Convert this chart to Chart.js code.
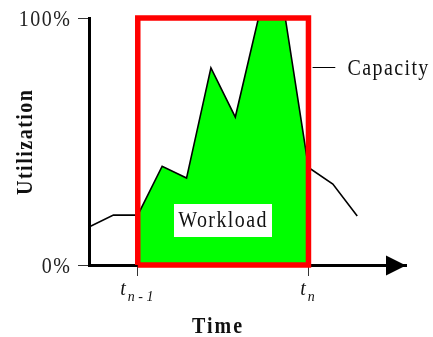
<!DOCTYPE html>
<html>
<head>
<meta charset="utf-8">
<script src="https://cdn.jsdelivr.net/npm/chart.js@4/dist/chart.umd.min.js"></script>
<style>
  html, body { margin: 0; padding: 0; background: #fff; }
  #wrap { width: 433px; height: 337px; }
</style>
</head>
<body>
<div id="wrap"><canvas id="chart" width="433" height="337"></canvas></div>
<script>
// time axis runs 0..13, the window is t(n-1) .. t(n)
const timeX = [0, 1, 2, 3, 4, 5, 6, 6.95, 8.05, 9, 10, 11];
const workload = [15.4, 20.2, 20.2, 40, 35.2, 79.8, 59.9, 100, 100, 39.5, 32.8, 19.8];
const tPrev = 2;
const tN = 9;
const capacity = 100;
const yTicks = [0, 100];
const yTickLabels = ['0%', '100%'];
const xMax = 13;

const serif = "'Liberation Serif', 'Times New Roman', serif";

// points of the workload line
const workloadPts = timeX.map((x, i) => ({ x: x, y: workload[i] }));
// only the part inside the window gets the green fill
const windowPts = workloadPts.filter(p => p.x >= tPrev && p.x <= tN);
// capacity box over the window
const capacityPts = [
    { x: tPrev, y: 0 }, { x: tPrev, y: capacity },
    { x: tN, y: capacity }, { x: tN, y: 0 }, { x: tPrev, y: 0 }
];

// draw text with a bit of spacing and the tall look of the original
function txt(ctx, s, x, y, font, align, opts = {}) {
    ctx.save();
    ctx.translate(x, y);
    if (opts.rot) ctx.rotate(opts.rot);
    ctx.scale(1, opts.sy || 1.15);
    ctx.font = font;
    ctx.fillStyle = opts.color || '#111';
    ctx.textAlign = align;
    ctx.textBaseline = opts.base || 'alphabetic';
    ctx.letterSpacing = (opts.ls || 0) + 'px';
    // letterSpacing adds space after last char too, shift back
    let dx = 0;
    if (align === 'center') dx = (opts.ls || 0) / 2;
    if (align === 'right') dx = (opts.ls || 0);
    ctx.fillText(s, dx, 0);
    ctx.restore();
}

const decor = {
    id: 'decor',
    afterDatasetsDraw(chart) {
        const ctx = chart.ctx;
        const xs = chart.scales.x, ys = chart.scales.y;
        const area = chart.chartArea;

        // arrow at the end of the time axis
        const ay = ys.getPixelForValue(0) + 0.5;
        ctx.save();
        ctx.fillStyle = '#000';
        ctx.beginPath();
        ctx.moveTo(area.right, ay);
        ctx.lineTo(area.right - 20, ay - 10);
        ctx.lineTo(area.right - 20, ay + 10);
        ctx.closePath();
        ctx.fill();
        ctx.restore();

        // y tick labels, next to the library's tick marks
        ys.ticks.forEach((t, i) => {
            const py = ys.getPixelForValue(t.value);
            txt(ctx, yTickLabels[i], 70, py + 7.5, '20px ' + serif, 'right', { ls: 1.5, color: '#222' });
        });

        // Workload label in a white box
        const wx = xs.getPixelForValue(5.47);
        const wy = ys.getPixelForValue(18);
        ctx.save();
        ctx.font = '20px ' + serif;
        ctx.letterSpacing = '1.4px';
        const ww = ctx.measureText('Workload').width;
        ctx.restore();
        ctx.fillStyle = '#fff';
        ctx.fillRect(Math.round(wx - ww / 2 - 4), Math.round(wy - 16.5), Math.round(ww + 8), 33);
        txt(ctx, 'Workload', wx, wy + 6.5, '20px ' + serif, 'center', { ls: 1.4 });

        // Capacity leader line and label
        const cy = ys.getPixelForValue(80);
        ctx.save();
        ctx.strokeStyle = '#000';
        ctx.lineWidth = 1;
        ctx.beginPath();
        ctx.moveTo(xs.getPixelForValue(tN + 0.17), Math.round(cy) + 0.5);
        ctx.lineTo(xs.getPixelForValue(tN + 1.1), Math.round(cy) + 0.5);
        ctx.stroke();
        ctx.restore();
        txt(ctx, 'Capacity', xs.getPixelForValue(tN + 1.6), cy + 8, '20px ' + serif, 'left', { ls: 1.4 });

        // t(n-1) and t(n) under the ticks
        const base = ys.getPixelForValue(0) + 30;
        [[tPrev, 'n - 1'], [tN, 'n']].forEach(([v, sub]) => {
            const px = xs.getPixelForValue(v);
            ctx.save();
            ctx.font = 'italic 20px ' + serif;
            const tw = ctx.measureText('t').width;
            ctx.font = 'italic 14px ' + serif;
            const sw = ctx.measureText(sub).width;
            ctx.restore();
            const left = px - (tw + 2 + sw) / 2 - 1;
            txt(ctx, 't', left, base, 'italic 20px ' + serif, 'left', { sy: 1.1 });
            txt(ctx, sub, left + tw + 2, base + 6, 'italic 14px ' + serif, 'left', { sy: 1.1 });
        });

        // axis titles
        txt(ctx, 'Time', xs.getPixelForValue(5.25), 333, 'bold 20px ' + serif, 'center', { ls: 2 });
        const midY = (area.top + area.bottom) / 2;
        txt(ctx, 'Utilization', 26, midY + 1, 'bold 20px ' + serif, 'center',
            { rot: -Math.PI / 2, base: 'middle', ls: 1.5 });
    }
};

new Chart(document.getElementById('chart'), {
    type: 'line',
    data: {
        datasets: [
            {
                label: 'Capacity',
                data: capacityPts,
                borderColor: '#ff0000',
                borderWidth: 5.5,
                borderJoinStyle: 'miter',
                pointRadius: 0,
                fill: false,
                tension: 0,
                clip: false
            },
            {
                label: 'Workload',
                data: workloadPts,
                borderColor: '#000',
                borderWidth: 1.6,
                pointRadius: 0,
                fill: false,
                tension: 0,
                clip: false
            },
            {
                label: 'Window',
                data: windowPts,
                borderWidth: 0,
                borderColor: 'rgba(0,0,0,0)',
                backgroundColor: '#00ff00',
                pointRadius: 0,
                fill: 'origin',
                tension: 0,
                clip: false
            }
        ]
    },
    options: {
        responsive: false,
        animation: false,
        events: [],
        layout: { padding: { top: 18, right: 27, left: 0, bottom: 0 } },
        plugins: { legend: { display: false }, tooltip: { enabled: false } },
        scales: {
            x: {
                type: 'linear',
                min: 0,
                max: xMax,
                afterBuildTicks: s => { s.ticks = [{ value: tPrev }, { value: tN }]; },
                afterFit: s => { s.height = 72; },
                ticks: { display: false },
                grid: { display: true, drawOnChartArea: false, drawTicks: true, tickLength: 11, color: '#333', lineWidth: 1 },
                border: { display: true, color: '#000', width: 3 }
            },
            y: {
                type: 'linear',
                min: 0,
                max: 100,
                afterBuildTicks: s => { s.ticks = yTicks.map(v => ({ value: v })); },
                afterFit: s => { s.width = 89; },
                ticks: { display: false },
                grid: { display: true, drawOnChartArea: false, drawTicks: true, tickLength: 11, color: '#333', lineWidth: 1 },
                border: { display: true, color: '#000', width: 3 }
            }
        }
    },
    plugins: [decor]
});
</script>
</body>
</html>
